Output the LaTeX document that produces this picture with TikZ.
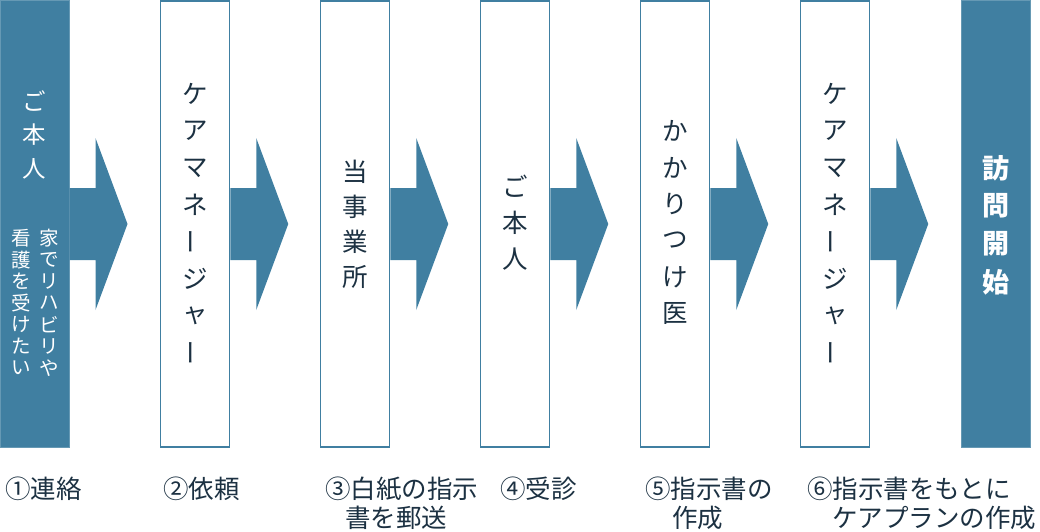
\documentclass[tikz,border=0pt]{standalone}
\usepackage{fontspec}
\setmainfont{Noto Sans CJK JP}
\definecolor{steel}{HTML}{407FA1}
\definecolor{ink}{HTML}{1C3142}
\newcommand\vbar{\rotatebox[origin=c]{90}{ー}}
\begin{document}
\begin{tikzpicture}[x=1pt,y=-1pt,
  boxw/.style={draw=steel, line width=1.5pt, fill=white, minimum width=69pt, minimum height=446pt, inner sep=0pt},
  boxb/.style={draw=steel!80, line width=1pt, fill=steel, minimum width=69pt, minimum height=446pt, inner sep=0pt},
  ch/.style={font=\fontsize{25.5}{25.5}\selectfont, text=ink, inner sep=0pt},
  chw/.style={font=\fontsize{23.5}{23.5}\selectfont, text=white, inner sep=0pt},
  chs/.style={font=\fontsize{19.5}{19.5}\selectfont, text=white, inner sep=0pt},
  chb/.style={font=\fontsize{27}{27}\selectfont\bfseries, text=white, inner sep=0pt},
  lab/.style={font=\fontsize{25.5}{25.5}\selectfont, text=ink, inner sep=0pt, anchor=west},
  blockarrow/.style={fill=steel}]
\useasboundingbox (0,0) rectangle (1040,532);
% boxes
\node[boxb] (b1) at (34.5,224) {};
\node[boxw] (b2) at (195,224) {};
\node[boxw] (b3) at (355,224) {};
\node[boxw] (b4) at (515,224) {};
\node[boxw] (b5) at (675,224) {};
\node[boxw] (b6) at (835,224) {};
\node[boxb] (b7) at (996,224) {};
% block arrows between boxes
\foreach \a in {b1,b2,b3,b4,b5,b6}
  \fill[blockarrow] (\a.east) ++(0,-36) -- ++(26,0) -- ++(0,-50) -- ++(32,86) -- ++(-32,86) -- ++(0,-50) -- ++(-26,0) -- cycle;
% box 1 text
\foreach \c [count=\i] in {ご,本,人}
  \node[chw] (t1-\i) at (34.5,{101+34*(\i-1)}) {\c};
\foreach \c [count=\i] in {家,で,リ,ハ,ビ,リ,や}
  \node[chs] (t1r-\i) at (49,{238+21.7*(\i-1)}) {\c};
\foreach \c [count=\i] in {看,護,を,受,け,た,い}
  \node[chs] (t1l-\i) at (21,{238+21.7*(\i-1)}) {\c};
% box 2
\foreach \c [count=\i] in {ケ,ア,マ,ネ,\vbar,ジ,ャ,\vbar}
  \node[ch] (t2-\i) at (195,{94+37*(\i-1)}) {\c};
% box 3
\foreach \c [count=\i] in {当,事,業,所}
  \node[ch] (t3-\i) at (355,{172+35*(\i-1)}) {\c};
% box 4
\foreach \c [count=\i] in {ご,本,人}
  \node[ch] (t4-\i) at (515,{186+36.5*(\i-1)}) {\c};
% box 5
\foreach \c [count=\i] in {か,か,り,つ,け,医}
  \node[ch] (t5-\i) at (675,{131+36.5*(\i-1)}) {\c};
% box 6
\foreach \c [count=\i] in {ケ,ア,マ,ネ,\vbar,ジ,ャ,\vbar}
  \node[ch] (t6-\i) at (835,{94+37*(\i-1)}) {\c};
% box 7
\foreach \c [count=\i] in {訪,問,開,始}
  \node[chb] (t7-\i) at (996,{168+38*(\i-1)}) {\c};
% labels
\node[lab] (l1) at (5,489) {①連絡};
\node[lab] (l2) at (163,489) {②依頼};
\node[lab] (l3a) at (325,489) {③白紙の指示};
\node[lab] (l3b) at (345,518) {書を郵送};
\node[lab] (l4) at (500,489) {④受診};
\node[lab] (l5a) at (645,489) {⑤指示書の};
\node[lab] (l5b) at (672,518) {作成};
\node[lab] (l6a) at (807,489) {⑥指示書をもとに};
\node[lab] (l6b) at (832,518) {ケアプランの作成};
\end{tikzpicture}
\end{document}
